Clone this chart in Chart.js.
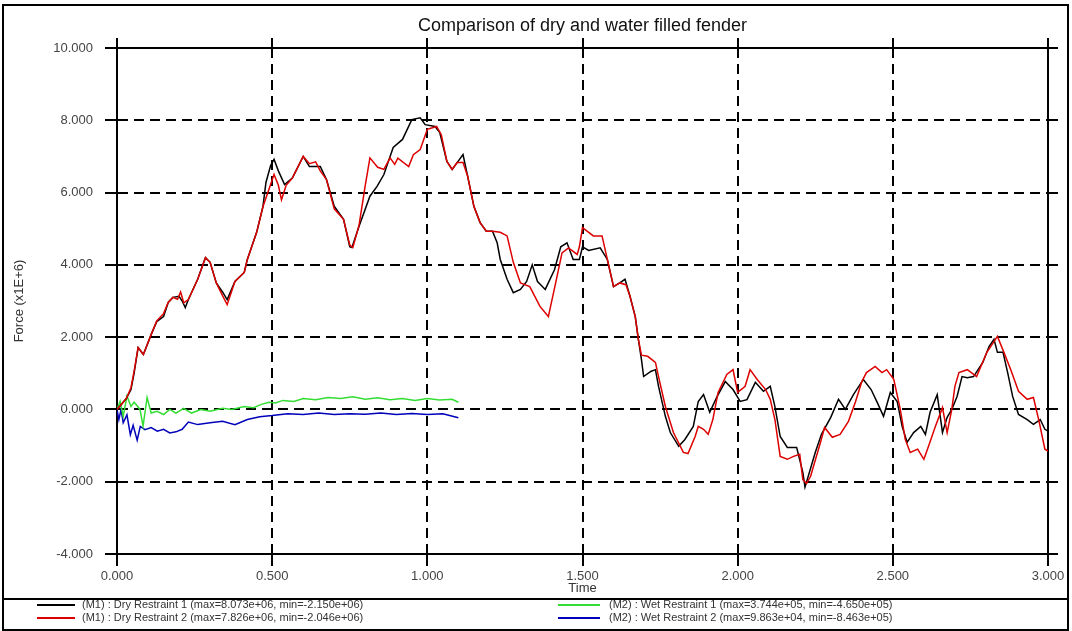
<!DOCTYPE html>
<html lang="en">
<head>
<meta charset="UTF-8">
<title>Comparison of dry and water filled fender</title>
<script src="https://cdn.jsdelivr.net/npm/chart.js"></script>
<style>
  body { margin: 0; background: #fff; }
  canvas { display: block; }
</style>
</head>
<body>
<canvas id="forceChart" width="1072" height="631"></canvas>
<script>
// time (s) and force (x1E+6)
const dryTime1 = [
  0.000,0.015,0.030,0.045,0.055,0.068,0.085,0.110,0.128,0.150,
  0.165,0.180,0.200,0.210,0.220,0.230,0.260,0.285,0.300,0.320,
  0.340,0.355,0.380,0.410,0.420,0.450,0.470,0.480,0.495,0.506,
  0.520,0.540,0.565,0.600,0.620,0.655,0.675,0.700,0.730,0.750,
  0.757,0.780,0.815,0.838,0.860,0.890,0.920,0.950,0.977,0.993,
  1.025,1.040,1.063,1.080,1.096,1.115,1.130,1.150,1.170,1.190,
  1.210,1.225,1.235,1.257,1.277,1.300,1.320,1.338,1.355,1.380,
  1.410,1.430,1.450,1.470,1.490,1.500,1.520,1.557,1.580,1.600,
  1.620,1.637,1.653,1.670,1.680,1.690,1.697,1.720,1.735,1.745,
  1.767,1.783,1.810,1.830,1.857,1.873,1.890,1.910,1.934,1.960,
  1.985,2.008,2.030,2.057,2.083,2.105,2.120,2.137,2.160,2.190,
  2.210,2.217,2.250,2.270,2.300,2.325,2.347,2.373,2.405,2.430,
  2.450,2.470,2.492,2.514,2.530,2.546,2.567,2.590,2.605,2.620,
  2.643,2.660,2.675,2.690,2.707,2.723,2.740,2.760,2.790,2.810,
  2.826,2.837,2.855,2.870,2.886,2.905,2.933,2.953,2.975,2.990,
  3.000
];
const dryRestraint1 = [
  0.00,0.15,0.30,0.55,1.00,1.71,1.52,2.07,2.43,2.57,
  2.96,3.10,3.13,3.00,2.82,3.04,3.60,4.20,4.07,3.50,
  3.25,3.04,3.54,3.79,4.15,4.90,5.60,6.28,6.75,6.92,
  6.60,6.22,6.40,7.00,6.72,6.72,6.36,5.62,5.26,4.50,
  4.48,5.07,5.90,6.17,6.50,7.25,7.47,8.02,8.07,7.88,
  7.83,7.66,6.86,6.64,6.83,7.05,6.45,5.62,5.17,4.93,
  4.93,4.61,4.15,3.60,3.23,3.32,3.54,4.00,3.54,3.32,
  3.87,4.50,4.61,4.15,4.15,4.50,4.40,4.47,4.15,3.40,
  3.50,3.60,3.13,2.57,1.94,1.38,0.91,1.05,1.10,0.64,
  -0.19,-0.64,-1.02,-0.83,-0.47,0.22,0.41,-0.08,0.36,0.77,
  0.55,0.22,0.27,0.75,0.50,0.64,0.08,-0.75,-1.05,-1.05,
  -1.74,-2.15,-1.19,-0.69,-0.22,0.28,0.00,0.41,0.83,0.55,
  0.19,-0.19,0.47,0.22,-0.47,-0.91,-0.64,-0.47,-0.69,-0.08,
  0.41,-0.64,-0.22,0.00,0.36,0.91,0.88,0.91,1.30,1.74,
  1.94,1.58,1.58,1.02,0.36,-0.14,-0.28,-0.41,-0.28,-0.55,
  -0.60
];

const dryTime2 = [
  0.000,0.015,0.030,0.045,0.055,0.068,0.085,0.110,0.128,0.150,
  0.165,0.180,0.195,0.205,0.215,0.230,0.260,0.285,0.300,0.320,
  0.340,0.355,0.380,0.410,0.420,0.450,0.470,0.490,0.506,0.520,
  0.530,0.545,0.565,0.600,0.620,0.640,0.655,0.675,0.700,0.730,
  0.750,0.760,0.780,0.800,0.815,0.840,0.860,0.880,0.895,0.905,
  0.940,0.955,0.977,1.000,1.030,1.045,1.063,1.080,1.096,1.115,
  1.130,1.150,1.170,1.190,1.210,1.235,1.257,1.277,1.300,1.330,
  1.363,1.390,1.418,1.434,1.455,1.483,1.490,1.500,1.535,1.563,
  1.580,1.600,1.620,1.640,1.653,1.670,1.680,1.690,1.710,1.735,
  1.745,1.767,1.793,1.825,1.840,1.863,1.873,1.890,1.905,1.920,
  1.937,1.965,1.985,2.000,2.024,2.040,2.063,2.090,2.105,2.120,
  2.137,2.160,2.180,2.200,2.210,2.222,2.235,2.267,2.280,2.305,
  2.330,2.357,2.380,2.400,2.415,2.443,2.465,2.480,2.503,2.524,
  2.540,2.556,2.580,2.600,2.615,2.637,2.660,2.675,2.690,2.700,
  2.713,2.740,2.770,2.803,2.837,2.857,2.880,2.905,2.933,2.953,
  2.970,2.990,3.000
];
const dryRestraint2 = [
  0.00,0.15,0.30,0.60,1.05,1.71,1.52,2.07,2.45,2.65,
  2.96,3.10,3.05,3.25,2.95,3.04,3.60,4.20,4.07,3.50,
  3.15,2.90,3.54,3.79,4.15,4.90,5.60,6.10,6.50,6.20,
  5.80,6.20,6.40,7.00,6.80,6.85,6.60,6.36,5.55,5.26,
  4.55,4.48,5.10,6.20,6.96,6.70,6.64,6.96,6.78,6.95,
  6.72,7.05,7.19,7.75,7.83,7.60,6.86,6.64,6.83,6.83,
  6.45,5.62,5.17,4.93,4.93,4.90,4.80,4.07,3.50,3.40,
  2.85,2.57,3.68,4.33,4.47,4.29,4.50,5.03,4.80,4.80,
  4.15,3.40,3.50,3.45,3.13,2.57,1.94,1.50,1.47,1.30,
  0.91,0.08,-0.64,-1.19,-1.22,-0.75,-0.47,-0.55,-0.69,-0.28,
  0.47,0.97,1.10,0.47,0.64,1.10,0.83,0.55,0.28,-0.28,
  -1.30,-1.38,-1.30,-1.24,-1.94,-2.05,-1.85,-0.91,-0.50,-0.77,
  -0.69,-0.33,0.22,0.77,1.02,1.19,1.02,1.10,0.83,0.00,
  -0.83,-1.19,-1.10,-1.38,-1.02,-0.47,0.05,-0.64,0.00,0.64,
  1.02,1.10,0.91,1.58,2.02,1.60,1.10,0.50,0.28,0.33,
  -0.28,-1.10,-1.15
];

const wetTime1 = [
  0.000,0.010,0.020,0.032,0.045,0.055,0.065,0.074,0.084,0.097,
  0.110,0.129,0.150,0.170,0.190,0.215,0.240,0.270,0.300,0.340,
  0.370,0.410,0.440,0.465,0.490,0.510,0.535,0.570,0.600,0.640,
  0.680,0.720,0.760,0.800,0.840,0.880,0.920,0.960,1.000,1.040,
  1.080,1.100
];
const wetRestraint1 = [
  0.00,0.22,-0.19,0.37,0.08,0.20,0.10,0.00,-0.46,0.33,
  -0.10,-0.05,-0.14,0.00,-0.10,0.03,-0.10,0.00,-0.05,0.03,
  0.00,0.08,0.05,0.14,0.20,0.18,0.25,0.22,0.30,0.27,
  0.33,0.30,0.35,0.28,0.32,0.27,0.30,0.25,0.30,0.26,
  0.28,0.20
];

const wetTime2 = [
  0.000,0.006,0.013,0.020,0.032,0.043,0.052,0.065,0.075,0.090,
  0.110,0.130,0.150,0.170,0.190,0.210,0.230,0.260,0.300,0.340,
  0.380,0.420,0.460,0.500,0.550,0.600,0.650,0.700,0.750,0.800,
  0.850,0.900,0.950,1.000,1.050,1.100
];
const wetRestraint2 = [
  0.00,-0.28,0.00,-0.37,-0.15,-0.70,-0.44,-0.85,-0.47,-0.56,
  -0.50,-0.60,-0.55,-0.65,-0.62,-0.55,-0.35,-0.42,-0.37,-0.33,
  -0.42,-0.28,-0.20,-0.17,-0.12,-0.14,-0.10,-0.14,-0.12,-0.13,
  -0.10,-0.14,-0.11,-0.14,-0.12,-0.23
];

const seriesLabels = [
  '(M1) : Dry Restraint 1 (max=8.073e+06, min=-2.150e+06)',
  '(M1) : Dry Restraint 2 (max=7.826e+06, min=-2.046e+06)',
  '(M2) : Wet Restraint 1 (max=3.744e+05, min=-4.650e+05)',
  '(M2) : Wet Restraint 2 (max=9.863e+04, min=-8.463e+05)'
];
const seriesColors = ['#000000', '#dd0000', '#33dd33', '#0000bb'];

const timeTicks = { min: 0, max: 3, step: 0.5 };
const forceTicks = { min: -4, max: 10, step: 2 };

function toPoints(ts, vs) {
  return ts.map((t, i) => ({ x: t, y: vs[i] }));
}

// gridlines dashed, except the outer frame lines
const endDash = (lo, hi) => ctx =>
  (ctx.tick && (ctx.tick.value === lo || ctx.tick.value === hi)) ? [] : [10, 6];

const sans = '"Liberation Sans", Arial, sans-serif';
const tickFont = { family: sans, size: 13 };

const framePlugin = {
  id: 'frame',
  afterDraw(chart) {
    const c = chart.ctx;
    const area = chart.chartArea;
    c.save();

    // title
    c.fillStyle = '#111';
    c.font = '18px ' + sans;
    c.textAlign = 'center';
    c.textBaseline = 'alphabetic';
    c.fillText('Comparison of dry and water filled fender', (area.left + area.right) / 2, 31);

    // outer frame + legend separator
    c.strokeStyle = '#000';
    c.lineWidth = 2;
    c.strokeRect(3, 5, 1065, 625);
    c.beginPath();
    c.moveTo(3, 599);
    c.lineTo(1068, 599);
    c.stroke();

    // legend, two columns
    let font = '13px "Liberation Sans Narrow"';
    c.font = font;
    if (c.measureText(seriesLabels[0]).width > 300) font = '11px ' + sans;
    c.font = font;
    c.textAlign = 'left';
    c.textBaseline = 'middle';
    const cols = [{ x0: 37, x1: 75, tx: 82 }, { x0: 558, x1: 600, tx: 609 }];
    const rows = [605, 618];
    chart.data.datasets.forEach((ds, i) => {
      const col = cols[Math.floor(i / 2)];
      const y = rows[i % 2];
      c.strokeStyle = ds.borderColor;
      c.lineWidth = 2;
      c.beginPath();
      c.moveTo(col.x0, y);
      c.lineTo(col.x1, y);
      c.stroke();
      c.fillStyle = '#333';
      c.fillText(ds.label, col.tx, y);
    });
    c.restore();
  }
};

new Chart(document.getElementById('forceChart'), {
  type: 'line',
  data: {
    datasets: [
      { label: seriesLabels[0], data: toPoints(dryTime1, dryRestraint1), borderColor: seriesColors[0], order: 2 },
      { label: seriesLabels[1], data: toPoints(dryTime2, dryRestraint2), borderColor: seriesColors[1], order: 1 },
      { label: seriesLabels[2], data: toPoints(wetTime1, wetRestraint1), borderColor: seriesColors[2], order: 3 },
      { label: seriesLabels[3], data: toPoints(wetTime2, wetRestraint2), borderColor: seriesColors[3], order: 4 }
    ]
  },
  options: {
    responsive: false,
    animation: false,
    layout: { padding: { left: 0, top: 38, right: 0, bottom: 0 } },
    elements: {
      line: { borderWidth: 1.5, tension: 0, fill: false },
      point: { radius: 0 }
    },
    plugins: {
      legend: { display: false },
      title: { display: false },
      tooltip: { enabled: false }
    },
    scales: {
      x: {
        type: 'linear',
        position: 'bottom',
        min: timeTicks.min,
        max: timeTicks.max,
        ticks: {
          stepSize: timeTicks.step,
          callback: v => v.toFixed(3),
          font: tickFont,
          color: '#444',
          padding: 3,
          maxRotation: 0
        },
        grid: { color: '#000', lineWidth: 2, tickLength: 12, tickBorderDash: [] },
        border: { color: '#000', width: 2, dash: endDash(timeTicks.min, timeTicks.max) },
        title: { display: true, text: 'Time', font: tickFont, color: '#333', padding: { top: 0, bottom: 35 } },
        afterFit: s => { s.height = 77; }
      },
      y: {
        type: 'linear',
        position: 'left',
        min: forceTicks.min,
        max: forceTicks.max,
        ticks: {
          stepSize: forceTicks.step,
          callback: v => v.toFixed(3),
          font: tickFont,
          color: '#444',
          padding: 12
        },
        grid: { color: '#000', lineWidth: 2, tickLength: 12, tickBorderDash: [] },
        border: { color: '#000', width: 2, dash: endDash(forceTicks.min, forceTicks.max) },
        title: { display: true, text: 'Force (x1E+6)', font: tickFont, color: '#333', padding: { top: 12, bottom: 0 } },
        afterFit: s => { s.width = 117; }
      },
      xTop: {
        type: 'linear',
        position: 'top',
        min: timeTicks.min,
        max: timeTicks.max,
        ticks: { display: false, stepSize: timeTicks.step },
        grid: { drawOnChartArea: false, color: '#000', lineWidth: 2, tickLength: 10 },
        border: { display: false },
        afterFit: s => { s.height = 10; }
      },
      yRight: {
        type: 'linear',
        position: 'right',
        min: forceTicks.min,
        max: forceTicks.max,
        ticks: { display: false, stepSize: forceTicks.step },
        grid: { drawOnChartArea: false, color: '#000', lineWidth: 2, tickLength: 10 },
        border: { display: false },
        afterFit: s => { s.width = 24; }
      }
    }
  },
  plugins: [framePlugin]
});
</script>
</body>
</html>
